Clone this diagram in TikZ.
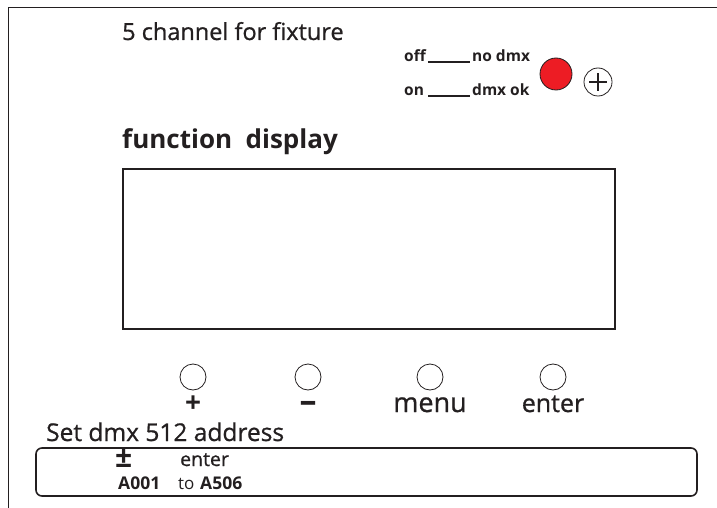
\documentclass[tikz,border=0pt]{standalone}
\usepackage{fontspec}
\setmainfont{Open Sans}
\newfontfamily\medium[FakeBold=0.8]{Open Sans}
\definecolor{ledred}{RGB}{237,28,36}
\definecolor{edge}{RGB}{35,31,32}
\newcommand{\fsz}[1]{\fontsize{#1}{#1}\selectfont}
\tikzset{
  lbl/.style={anchor=base west,inner sep=0pt,text=edge},
  knob/.style={draw=edge,circle,minimum size=26pt,inner sep=0pt,line width=0.8pt},
  keytxt/.style={anchor=base,inner sep=0pt,text=edge}
}
\begin{document}
\begin{tikzpicture}[x=1pt,y=-1pt]
    \useasboundingbox (0,0) rectangle (717,508);
    \draw[edge,line width=1pt] (717,8) -- (8,8) -- (8,508);
    %% header
    \node[lbl] (title) at (122,40) {\fsz{23.5}\medium 5 channel for fixture};
    \node[lbl] (off) at (404,62) {\fsz{15.5}\bfseries off};
    \node[lbl] (nodmx) at (472,62) {\fsz{15.5}\bfseries no dmx};
    \node[lbl] (on) at (404,96) {\fsz{15.5}\bfseries on};
    \node[lbl] (dmxok) at (472,96) {\fsz{15.5}\bfseries dmx ok};
    \draw[edge,line width=1.5pt] ([xshift=2pt]off.base east) -- ([xshift=-2pt]nodmx.base west);
    \draw[edge,line width=1.5pt] ([xshift=4pt]on.base east) -- ([xshift=-2pt]dmxok.base west);
    \node[circle,draw=edge,fill=ledred,minimum size=32pt,inner sep=0pt,line width=0.8pt] (led) at (556,74) {};
    \node[circle,draw=edge,minimum size=28pt,inner sep=0pt,line width=0.8pt] (pol) at (598,82) {};
    \draw[edge,line width=1.4pt] ([xshift=-9pt]pol.center) -- ([xshift=9pt]pol.center)
        ([yshift=-9pt]pol.center) -- ([yshift=9pt]pol.center);
    %% display
    \node[lbl] (fd) at (122,148) {\fsz{26}\bfseries function\ \ display};
    \draw[edge,line width=1.6pt] (123,169) rectangle (615,329);
    %% keys
    \node[knob] (k1) at (193,377) {}; \node[keytxt] at (193,412) {\fsz{28}\bfseries +};
    \node[knob] (k2) at (308,377) {}; \node[keytxt] at (308,412) {\fsz{34}\bfseries --};
    \node[knob] (k3) at (430,377) {}; \node[keytxt] at (430,412) {\fsz{27}\medium menu};
    \node[knob] (k4) at (553,377) {}; \node[keytxt] at (553,412) {\fsz{25}\medium enter};
    %% address
    \node[lbl] (addr) at (46,441) {\fsz{24.5}\medium Set dmx 512 address};
    \draw[edge,line width=1.6pt,rounded corners=6pt] (36,448) rectangle (697,496);
    \node[lbl] (pm) at (115,467) {\fsz{30}\bfseries ±};
    \node[lbl] (ent) at (180,466) {\fsz{19.5}\medium enter};
    \node[lbl] (from) at (118,489) {\fsz{17.5}\bfseries A001};
    \node[lbl] (to) at (178,489) {\fsz{17}to};
    \node[lbl] (upto) at (200,489) {\fsz{17.5}\bfseries A506};
\end{tikzpicture}
\end{document}
